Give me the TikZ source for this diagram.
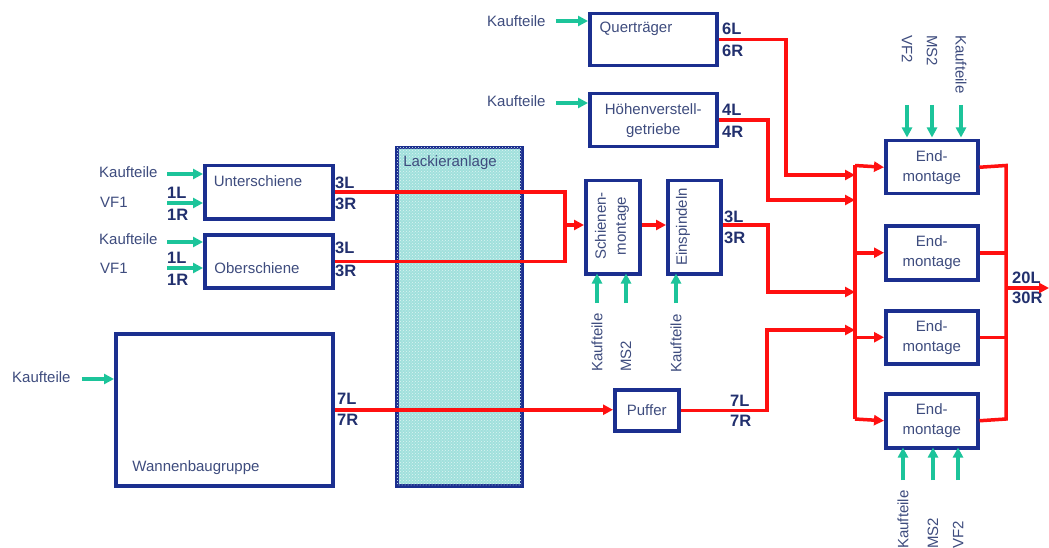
\documentclass[tikz,border=0pt]{standalone}
\usepackage{fontspec}
\setmainfont{Liberation Sans}
\usetikzlibrary{arrows.meta,patterns}
\definecolor{navy}{HTML}{1B2F8F}
\definecolor{txtc}{HTML}{3E4C7E}
\definecolor{labc}{HTML}{22306E}
\definecolor{grn}{HTML}{1CC49A}
\definecolor{rd}{HTML}{FF1010}
\definecolor{paint}{HTML}{A0E0DC}
\begin{document}
\begin{tikzpicture}[x=1pt,y=-1pt,
 box/.style={draw=navy,line width=3.5pt,inner sep=0pt,anchor=north west},
 txt/.style={text=txtc,font=\fontsize{15}{20}\selectfont,inner sep=0pt,align=center},
 lab/.style={text=labc,font=\fontsize{16.5}{18}\selectfont\bfseries,inner sep=0pt,anchor=west},
 flow/.style={draw=rd,line width=3.5pt},
 flowa/.style={flow,-{Triangle[length=10pt,width=10pt]}},
 inp/.style={draw=grn,line width=3.5pt,-{Triangle[length=10pt,width=10pt]}},
]
\useasboundingbox[fill=white] (0,0) rectangle (1049,548);

% boxes
\node[box,minimum width=127,minimum height=52] (quer) at (588,12) {};
\node[box,txt,minimum width=127,minimum height=53] (hoehe) at (588,92) {Höhenverstell-\\getriebe};
\node[box,minimum width=128,minimum height=53] (unter) at (203,164) {};
\node[box,minimum width=128,minimum height=53] (ober) at (203,233) {};
\node[box,minimum width=217,minimum height=152] (wanne) at (114,332) {};
\node[box,fill=paint,postaction={pattern=crosshatch dots,pattern color=white!65!paint},minimum width=125,minimum height=338] (lack) at (395,146) {};
\node[box,minimum width=54,minimum height=93] (schiene) at (584,179) {};
\node[box,minimum width=53,minimum height=93] (einsp) at (666,179) {};
\node[box,txt,minimum width=64,minimum height=41] (puffer) at (613,388) {Puffer};
\node[box,txt,minimum width=92,minimum height=53] (end1) at (884,139) {End-\\montage};
\node[box,txt,minimum width=92,minimum height=54] (end2) at (884,224) {End-\\montage};
\node[box,txt,minimum width=92,minimum height=53] (end3) at (884,309) {End-\\montage};
\node[box,txt,minimum width=92,minimum height=54] (end4) at (884,392) {End-\\montage};

% box texts
\node[txt] (tquer) at (636,29) {Querträger};
\node[txt] (tunter) at (258,181) {Unterschiene};
\node[txt] (tober) at (257,268) {Oberschiene};
\node[txt] (twanne) at (196,468) {Wannenbaugruppe};
\node[txt] (tlack) at (450,163) {Lackieranlage};
\node[txt,rotate=90] (tschiene) at (612,226) {Schienen-\\montage};
\node[txt,rotate=90] (teinsp) at (683,227) {Einspindeln};

% outer labels
\node[txt,anchor=west] (kq) at (487,21) {Kaufteile};
\node[txt,anchor=west] (kh) at (487,101) {Kaufteile};
\node[txt,anchor=west] (ku) at (99,172) {Kaufteile};
\node[txt,anchor=west] (vu) at (100,202) {VF1};
\node[txt,anchor=west] (ko) at (99,239) {Kaufteile};
\node[txt,anchor=west] (vo) at (100,268) {VF1};
\node[txt,anchor=west] (kw) at (12,377) {Kaufteile};
\node[txt,rotate=90,anchor=west] (ks1) at (597,372) {Kaufteile};
\node[txt,rotate=90,anchor=west] (ms1) at (626,372) {MS2};
\node[txt,rotate=90,anchor=west] (ke1) at (676,373) {Kaufteile};
\node[txt,rotate=-90,anchor=west] (vt) at (907,35) {VF2};
\node[txt,rotate=-90,anchor=west] (mt) at (932,35) {MS2};
\node[txt,rotate=-90,anchor=west] (kt) at (961,35) {Kaufteile};
\node[txt,rotate=90,anchor=west] (kb) at (903,549) {Kaufteile};
\node[txt,rotate=90,anchor=west] (mb) at (933,549) {MS2};
\node[txt,rotate=90,anchor=west] (vb) at (958,549) {VF2};

% bold labels
\node[lab] (l6l) at (722,29) {6L};
\node[lab] (l6r) at (722,51) {6R};
\node[lab] (l4l) at (722,110) {4L};
\node[lab] (l4r) at (722,132) {4R};
\node[lab] (lu3l) at (335,183) {3L};
\node[lab] (lu3r) at (335,204) {3R};
\node[lab] (lo3l) at (335,248) {3L};
\node[lab] (lo3r) at (335,271) {3R};
\node[lab] (lu1l) at (167,193) {1L};
\node[lab] (lu1r) at (167,215) {1R};
\node[lab] (lo1l) at (167,258) {1L};
\node[lab] (lo1r) at (167,280) {1R};
\node[lab] (lw7l) at (337,399) {7L};
\node[lab] (lw7r) at (337,420) {7R};
\node[lab] (le3l) at (724,217) {3L};
\node[lab] (le3r) at (724,238) {3R};
\node[lab] (lp7l) at (730,401) {7L};
\node[lab] (lp7r) at (730,421) {7R};
\node[lab] (l20) at (1012,278) {20L};
\node[lab] (l30) at (1012,298) {30R};

% green inputs
\draw[inp] ([xshift=10pt]kq.east) -- (kq.east -| quer.west);
\draw[inp] ([xshift=10pt,yshift=-2pt]kh.east) -- ([yshift=-2pt]kh.east -| hoehe.west);
\draw[inp] (167,174) -- (unter.west |- 0,174);
\draw[inp] (167,203) -- (unter.west |- 0,203);
\draw[inp] (167,242) -- (ober.west |- 0,242);
\draw[inp] (167,268) -- (ober.west |- 0,268);
\draw[inp] ([xshift=11pt,yshift=-2pt]kw.east) -- ([yshift=-2pt]kw.east -| wanne.west);
\draw[inp] (597,303) -- (597,273.5);
\draw[inp] (626,303) -- (626,273.5);
\draw[inp] (676,303) -- (676,273.5);
\draw[inp] (907,105) -- (907,137.5);
\draw[inp] (932,105) -- (932,137.5);
\draw[inp] (961,105) -- (961,137.5);
\draw[inp] (903,480) -- (903,447.5);
\draw[inp] (933,480) -- (933,447.5);
\draw[inp] (958,480) -- (958,447.5);

% red flows
\coordinate (j1) at (565,225);
\draw[flow] (unter.east) -| (j1);
\draw[flow] (ober.east) -| (j1);
\draw[flowa] (j1) -- (j1 -| schiene.west);
\draw[flowa] (schiene.east |- j1) -- (j1 -| einsp.west);
\draw[flowa] (wanne.east) -- (wanne.east -| puffer.west);

\coordinate (bt) at (855,165.5);
\coordinate (bb) at (855,419);
\draw[flowa] (quer.east) -| (786,175) -- (855,175);
\draw[flowa] (hoehe.east) -| (768,200) -- (855,200);
\draw[flowa] (einsp.east |- 0,225) -| (768,292) -- (855,292);
\draw[flowa] (puffer.east) -| (767,330) -- (855,330);
\draw[flow] (bt) -- (bb);
\draw[flowa] (bt) -- (end1.west);
\draw[flowa] (bt |- end2.west) -- (end2.west);
\draw[flowa] (bt |- end3.west) -- (end3.west);
\draw[flowa] (bb) -- (end4.west);

\coordinate (ot) at (1006,165.5);
\coordinate (ob) at (1006,419);
\coordinate (out) at (1006,288);
\coordinate (outend) at (1049,288);
\draw[flow] (end1.east) -- (ot) -- (ob) -- (end4.east);
\draw[flow] (end2.east) -- (end2.east -| ot);
\draw[flow] (end3.east) -- (end3.east -| ot);
\draw[flowa] (out) -- (outend);
\end{tikzpicture}
\end{document}
